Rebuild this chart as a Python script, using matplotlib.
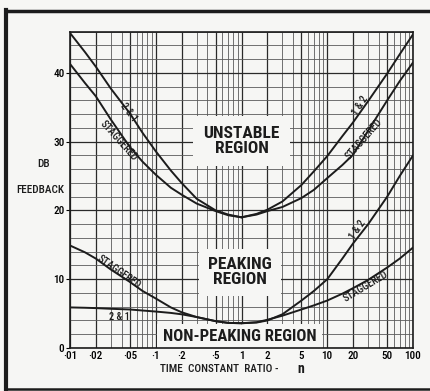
import matplotlib
matplotlib.use("Agg")
import matplotlib.pyplot as plt
from matplotlib.lines import Line2D
from matplotlib.ticker import LogLocator, NullFormatter, MultipleLocator

plt.rcParams['font.family'] = ['Roboto Condensed', 'DejaVu Sans']
plt.rcParams['font.weight'] = 'medium'

# time constant ratio (left half and right half of each curve)
x_left = [0.01, 0.015, 0.02, 0.03, 0.05, 0.07, 0.1, 0.15, 0.2, 0.3, 0.5, 0.7, 1.0]
x_right = [1.0, 1.5, 2, 3, 5, 7, 10, 15, 20, 30, 50, 70, 100]

# upper pair: unstable boundary (db feedback)
upper_21 = [45.8, 43.0, 40.9, 37.7, 34.1, 31.3, 28.6, 25.8, 24.0, 21.7, 20.0, 19.4, 19.0]
upper_12 = [19.0, 19.5, 20.1, 21.3, 23.7, 25.7, 27.9, 30.8, 32.8, 35.9, 39.9, 42.7, 45.6]
upper_stag_l = [41.3, 38.5, 36.6, 33.2, 29.2, 27.1, 25.2, 23.3, 22.3, 21.0, 19.9, 19.3, 19.0]
upper_stag_r = [19.0, 19.4, 19.9, 20.5, 21.8, 23.0, 24.7, 26.6, 28.1, 31.6, 36.0, 38.8, 41.5]

# lower pair: peaking boundary
lower_21 = [5.9, 5.85, 5.8, 5.7, 5.6, 5.45, 5.3, 5.1, 4.9, 4.5, 3.9, 3.65, 3.6]
lower_12 = [3.6, 3.7, 4.0, 4.9, 6.9, 8.3, 10.0, 13.0, 15.2, 18.0, 22.0, 25.0, 28.0]
lower_stag_l = [14.9, 13.9, 13.0, 11.4, 9.6, 8.3, 7.2, 5.9, 5.2, 4.5, 3.9, 3.65, 3.6]
lower_stag_r = [3.6, 3.75, 4.1, 4.7, 5.6, 6.2, 6.9, 7.9, 8.7, 9.9, 11.7, 13.0, 14.6]

xticks = [0.01, 0.02, 0.05, 0.1, 0.2, 0.5, 1, 2, 5, 10, 20, 50, 100]
xticklabels = ['·01', '·02', '·05', '·1', '·2', '·5', '1', '2', '5', '10', '20', '50', '100']
yticks = [0, 10, 20, 30, 40]

paper = '#f6f6f4'
ink = '#1c1c1c'

fig = plt.figure(figsize=(4.3, 3.91), dpi=100, facecolor=paper)
ax = fig.add_axes([70/430, 1 - 348/391, 343/430, 316.4/391])
ax.set_facecolor(paper)
ax.set_xscale('log')
ax.set_xlim(0.01, 100)
ax.set_ylim(0, 46)

# graph paper
ax.xaxis.set_minor_locator(LogLocator(base=10, subs=range(2, 10)))
ax.xaxis.set_minor_formatter(NullFormatter())
ax.yaxis.set_minor_locator(MultipleLocator(2))
ax.grid(which='minor', color='#5a5a5a', lw=0.6, zorder=0)
ax.grid(which='major', color='#2a2a2a', lw=0.9, zorder=0)
ax.set_xticks(xticks)
ax.set_xticklabels(xticklabels, fontsize=8)
ax.set_yticks(yticks)
ax.set_yticklabels([str(v) for v in yticks], fontsize=8)
ax.tick_params(axis='x', which='both', length=0, pad=2)
ax.tick_params(axis='y', which='major', length=3, pad=1, width=0.8)
ax.tick_params(axis='y', which='minor', length=0)
for s in ax.spines.values():
    s.set_color(ink)
    s.set_linewidth(1.2)
ax.set_axisbelow(True)

for xs, ys in [(x_left, upper_21), (x_right, upper_12), (x_left, upper_stag_l), (x_right, upper_stag_r),
               (x_left, lower_21), (x_right, lower_12), (x_left, lower_stag_l), (x_right, lower_stag_r)]:
    ax.plot(xs, ys, color=ink, lw=1.4, zorder=3, solid_capstyle='round')

# region labels with paper-coloured boxes hiding the grid
box = dict(boxstyle='square,pad=0.6', fc=paper, ec='none')
ax.text(1.0, 30.1, 'UNSTABLE\nREGION', ha='center', va='center', fontsize=12.5, fontweight='semibold',
        linespacing=1.0, color=ink, bbox=box, zorder=2)
ax.text(0.96, 11.0, 'PEAKING\nREGION', ha='center', va='center', fontsize=12.5, fontweight='semibold',
        linespacing=1.0, color=ink, bbox=dict(boxstyle='square,pad=0.5', fc=paper, ec='none'), zorder=2)
ax.text(0.95, 1.6, 'NON-PEAKING REGION', ha='center', va='center', fontsize=12, fontweight='semibold',
        color=ink, bbox=dict(boxstyle='square,pad=0.35', fc=paper, ec='none'), zorder=2)

# curve labels
lab = dict(ha='center', va='center', fontsize=7.5, color=ink, zorder=4)
ax.text(0.048, 34.3, '2 & 1', rotation=-52, **lab)
ax.text(0.0365, 30.2, 'STAGGERED', rotation=-48, **lab)
ax.text(24, 35.2, '1 & 2', rotation=57, **lab)
ax.text(27, 30.4, 'STAGGERED', rotation=49, **lab)
ax.text(0.0375, 11.0, 'STAGGERED', rotation=-35, **lab)
ax.text(0.0375, 4.45, '2 & 1', rotation=0, **lab)
ax.text(22.6, 17.2, '1 & 2', rotation=55, **lab)
ax.text(28.1, 8.9, 'STAGGERED', rotation=31, **lab)

fig.text(44/430, 1 - 164/391, 'DB', ha='center', va='center', fontsize=8, color=ink)
fig.text(40/430, 1 - 190/391, 'FEEDBACK', ha='center', va='center', fontsize=8, color=ink)
fig.text(160/430, 1 - 369/391, 'TIME  CONSTANT  RATIO -', ha='left', va='center', fontsize=8, color=ink)
fig.text(297/430, 1 - 369/391, 'n', ha='left', va='center', fontsize=10, fontweight='bold', color=ink)

# picture border
for (x0, y0, x1, y1, w) in [(6, 10, 6, 390, 3.0), (6, 11, 430, 11, 2.5), (6, 389, 430, 389, 1.8)]:
    fig.add_artist(Line2D([x0/430, x1/430], [1 - y0/391, 1 - y1/391], transform=fig.transFigure,
                          color=ink, lw=w))

fig.savefig('out.png', dpi=100, facecolor=paper)
